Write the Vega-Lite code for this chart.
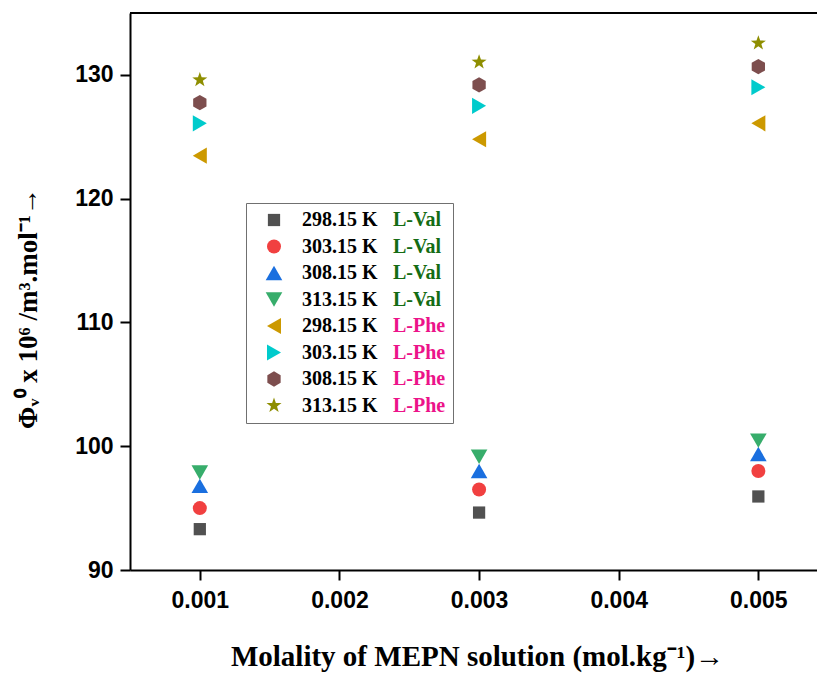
{
  "$schema": "https://vega.github.io/schema/vega-lite/v6.json",
  "width": 687,
  "height": 557,
  "autosize": {"type": "none"},
  "padding": {"left": 130, "top": 13, "right": 0, "bottom": 103},
  "background": "white",
  "config": {
    "view": {"stroke": null},
    "axis": {
      "grid": false,
      "domainColor": "black",
      "domainWidth": 2,
      "tickColor": "black",
      "tickWidth": 2,
      "tickSize": 10,
      "labelColor": "black",
      "labelFont": "Liberation Sans",
      "labelFontWeight": "bold",
      "labelFontSize": 23,
      "titleColor": "black",
      "titleFont": "Liberation Serif",
      "titleFontWeight": "bold",
      "titleFontSize": 27
    }
  },
  "data": {
    "values": [
      {"x": 0.001, "y": 93.3, "series": "298.15 K L-Val"},
      {"x": 0.003, "y": 94.64, "series": "298.15 K L-Val"},
      {"x": 0.005, "y": 95.94, "series": "298.15 K L-Val"},
      {"x": 0.001, "y": 95.0, "series": "303.15 K L-Val"},
      {"x": 0.003, "y": 96.5, "series": "303.15 K L-Val"},
      {"x": 0.005, "y": 98.0, "series": "303.15 K L-Val"},
      {"x": 0.001, "y": 96.8, "series": "308.15 K L-Val"},
      {"x": 0.003, "y": 98.0, "series": "308.15 K L-Val"},
      {"x": 0.005, "y": 99.37, "series": "308.15 K L-Val"},
      {"x": 0.001, "y": 97.88, "series": "313.15 K L-Val"},
      {"x": 0.003, "y": 99.15, "series": "313.15 K L-Val"},
      {"x": 0.005, "y": 100.45, "series": "313.15 K L-Val"},
      {"x": 0.001, "y": 123.47, "series": "298.15 K L-Phe"},
      {"x": 0.003, "y": 124.8, "series": "298.15 K L-Phe"},
      {"x": 0.005, "y": 126.09, "series": "298.15 K L-Phe"},
      {"x": 0.001, "y": 126.09, "series": "303.15 K L-Phe"},
      {"x": 0.003, "y": 127.5, "series": "303.15 K L-Phe"},
      {"x": 0.005, "y": 129.0, "series": "303.15 K L-Phe"},
      {"x": 0.001, "y": 127.76, "series": "308.15 K L-Phe"},
      {"x": 0.003, "y": 129.19, "series": "308.15 K L-Phe"},
      {"x": 0.005, "y": 130.67, "series": "308.15 K L-Phe"},
      {"x": 0.001, "y": 129.6, "series": "313.15 K L-Phe"},
      {"x": 0.003, "y": 131.03, "series": "313.15 K L-Phe"},
      {"x": 0.005, "y": 132.57, "series": "313.15 K L-Phe"}
    ]
  },
  "layer": [
    {
      "mark": {"type": "rule", "color": "black", "strokeWidth": 2},
      "encoding": {"y": {"datum": 135, "type": "quantitative"}}
    },
    {
      "mark": {"type": "point", "filled": true, "opacity": 1, "strokeWidth": 0},
      "encoding": {
        "x": {
          "field": "x", "type": "quantitative",
          "scale": {"domain": [0.0005, 0.00542], "nice": false, "zero": false},
          "axis": {
            "values": [0.001, 0.002, 0.003, 0.004, 0.005],
            "format": ".3f",
            "labelPadding": 9,
            "title": "Molality of MEPN solution (mol.kg\u207b\u00b9)\u2192",
            "titleX": 347,
            "titleY": 95,
            "titleFontSize": 29,
            "titleBaseline": "alphabetic",
            "titleAlign": "center"
          }
        },
        "y": {
          "field": "y", "type": "quantitative",
          "scale": {"domain": [90, 135], "nice": false, "zero": false},
          "axis": {
            "values": [90, 100, 110, 120, 130],
            "labelPadding": 7,
            "title": "\u03a6\u1d65\u2070 x 10\u2076 /m\u00b3.mol\u207b\u00b9\u2192",
            "titleX": -94,
            "titleY": 295,
            "titleAngle": -90,
            "titleBaseline": "alphabetic",
            "titleAlign": "center"
          }
        },
        "color": {
          "field": "series", "type": "nominal",
          "scale": {
            "domain": ["298.15 K L-Val", "303.15 K L-Val", "308.15 K L-Val", "313.15 K L-Val", "298.15 K L-Phe", "303.15 K L-Phe", "308.15 K L-Phe", "313.15 K L-Phe"],
            "range": ["#515151", "#F14040", "#1A6FDF", "#37AD6B", "#CC9900", "#00CBCC", "#7D4E4E", "#8E8E00"]
          },
          "legend": {
            "orient": "none",
            "legendX": 116,
            "legendY": 190,
            "title": null,
            "padding": 7,
            "labelFont": "Liberation Serif",
            "labelFontWeight": "bold",
            "labelFontSize": 20,
            "labelColor": "black",
            "labelLimit": 400,
            "rowPadding": 6.5,
            "symbolOffset": 11,
            "labelOffset": 18,
            "labelExpr": "slice(datum.label, 0, 8)"
          }
        },
        "shape": {
          "field": "series", "type": "nominal",
          "scale": {
            "domain": ["298.15 K L-Val", "303.15 K L-Val", "308.15 K L-Val", "313.15 K L-Val", "298.15 K L-Phe", "303.15 K L-Phe", "308.15 K L-Phe", "313.15 K L-Phe"],
            "range": ["square", "circle", "triangle-up", "triangle-down", "triangle-left", "triangle-right", "M0,-1L0.866,-0.5L0.866,0.5L0,1L-0.866,0.5L-0.866,-0.5Z", "M0,-1L0.235,-0.324L0.951,-0.309L0.38,0.124L0.588,0.809L0,0.4L-0.588,0.809L-0.38,0.124L-0.951,-0.309L-0.235,-0.324Z"]
          }
        },
        "size": {
          "field": "series", "type": "nominal",
          "scale": {
            "type": "ordinal",
            "domain": ["298.15 K L-Val", "303.15 K L-Val", "308.15 K L-Val", "313.15 K L-Val", "298.15 K L-Phe", "303.15 K L-Phe", "308.15 K L-Phe", "313.15 K L-Phe"],
            "range": [150, 196, 276, 276, 262, 262, 236, 250]
          }
        },
        "opacity": {
          "field": "series", "type": "ordinal",
          "sort": {"field": "y", "op": "mean"},
          "scale": {"range": [1, 1]},
          "legend": {
            "orient": "none",
            "legendX": 116,
            "legendY": 190,
            "title": null,
            "padding": 7,
            "strokeColor": "#707070",
            "symbolOpacity": 0,
            "symbolSize": 0,
            "symbolStrokeWidth": 0,
            "labelOffset": 120,
            "labelFont": "Liberation Serif",
            "labelFontWeight": "bold",
            "labelFontSize": 20,
            "labelLimit": 400,
            "rowPadding": 6.5,
            "labelExpr": "slice(datum.label, 9)",
            "labelColor": {"expr": "indexof(datum.value, 'Val') >= 0 ? '#146C14' : '#EC1389'"}
          }
        }
      }
    }
  ]
}
